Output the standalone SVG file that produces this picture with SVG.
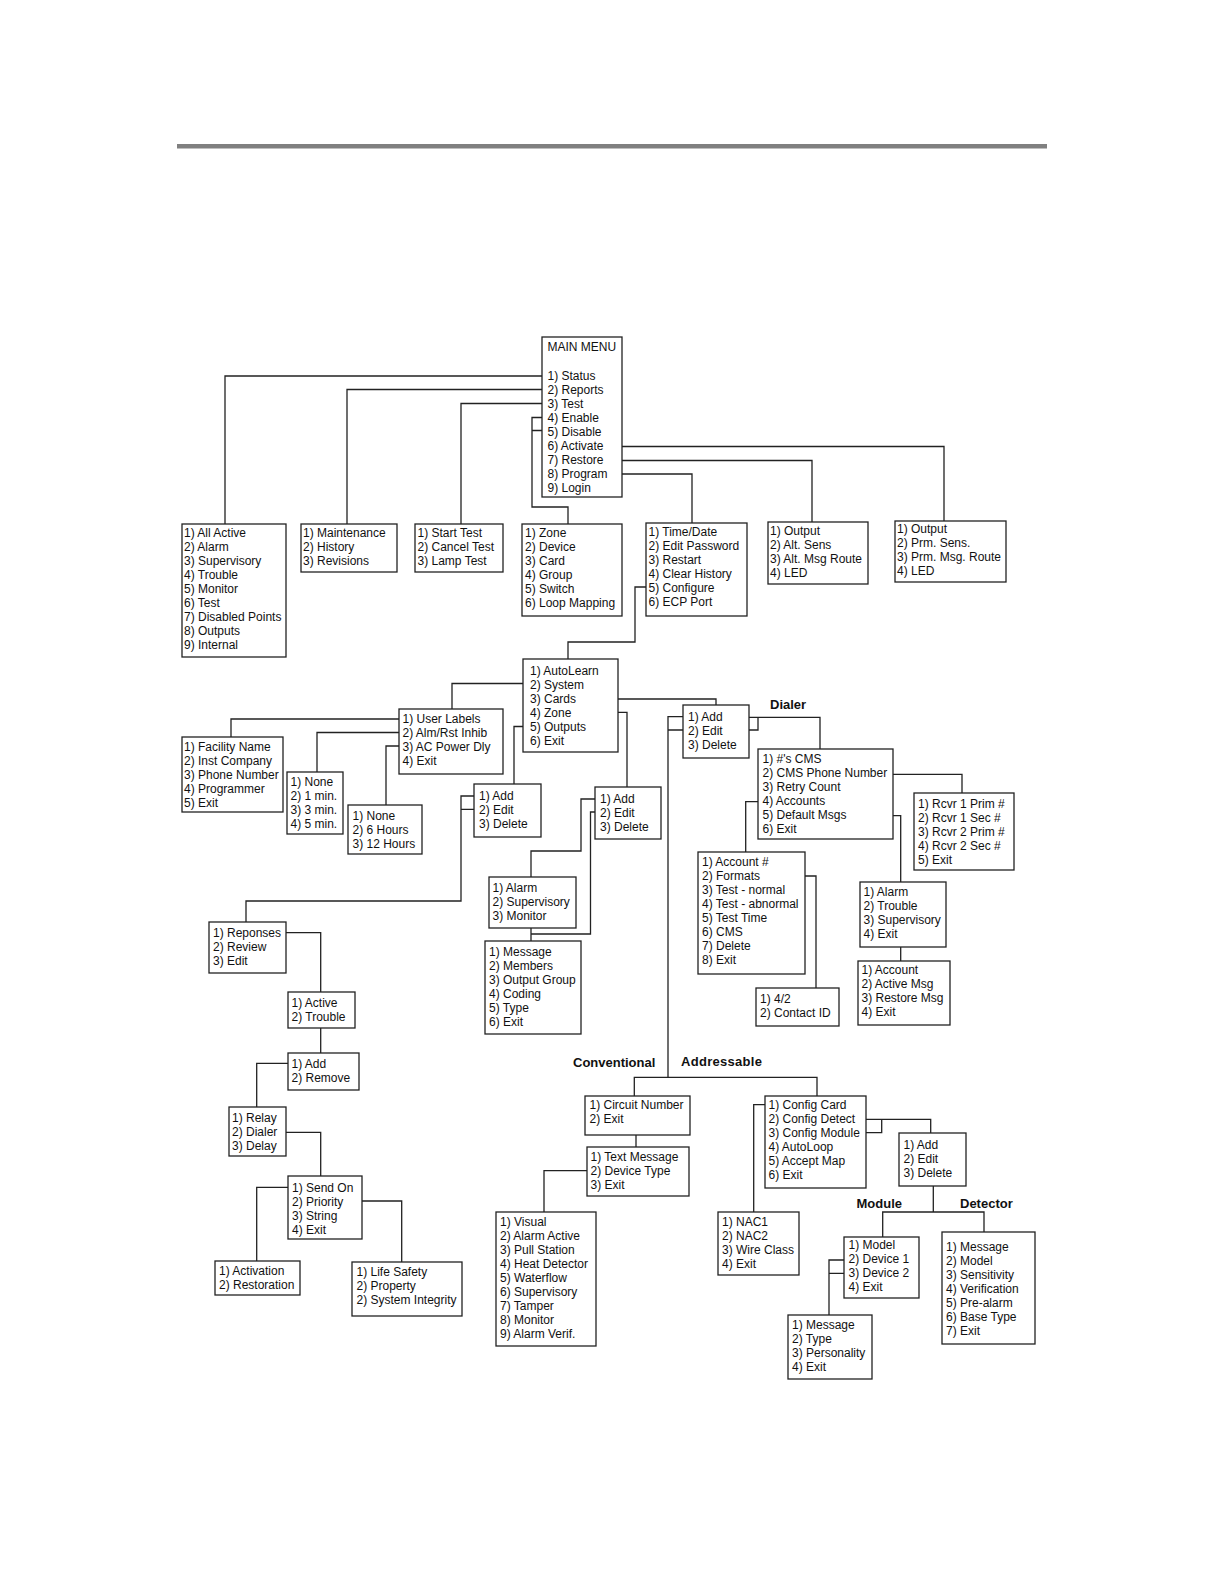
<svg xmlns="http://www.w3.org/2000/svg" width="1224" height="1584" viewBox="0 0 1224 1584">
<style>
.b{fill:#fff;stroke:#222;stroke-width:1.3}
.t{font-family:"Liberation Sans",Arial,sans-serif;font-size:12px;fill:#111}
.l{font-family:"Liberation Sans",Arial,sans-serif;font-size:13px;font-weight:bold;fill:#111}
.c{fill:none;stroke:#222;stroke-width:1.3}
</style>
<rect width="1224" height="1584" fill="#fff"/>
<rect x="177" y="144" width="870" height="4.5" fill="#808080"/>
<g id="connectors" class="c">
<path d="M542,376 H225 V524"/>
<path d="M542,389.5 H347 V524"/>
<path d="M542,403.5 H461 V524"/>
<path d="M542,417.5 H532 V507 H568 V524 M532,430.5 H542"/>
<path d="M622,446.5 H944 V521"/>
<path d="M622,460.5 H812 V522"/>
<path d="M622,474 H692 V523"/>
<path d="M646,587 H635 V642 H568 V659"/>
<path d="M523,683.5 H452 V709"/>
<path d="M399,719 H231 V737"/>
<path d="M399,732.5 H317 V772"/>
<path d="M399,746 H386 V805"/>
<path d="M523,726.5 H514 V784"/>
<path d="M618,712.3 H627 V787"/>
<path d="M618,699 H716 V705"/>
<path d="M474,796 H461 V901 H246 V922 M461,809.3 H474"/>
<path d="M595,799 H581 V851 H531 V877"/>
<path d="M595,812 H590.5 V934 H531 M531,928 V941"/>
<path d="M683,716.7 H668 V1077.3 M668,730 H683"/>
<path d="M634.3,1096 V1077.3 H817 V1096"/>
<path d="M749,717.3 H820 V749 M749,730 H758 V717.3"/>
<path d="M893,774.3 H962 V793"/>
<path d="M758,801.7 H745.7 V852"/>
<path d="M893,815.7 H900.7 V882"/>
<path d="M900.7,947 V961"/>
<path d="M805,876 H816 V988"/>
<path d="M286,932.7 H320.7 V992"/>
<path d="M320.7,1028 V1053"/>
<path d="M288,1063.3 H256.7 V1107"/>
<path d="M286,1132.3 H320.7 V1176"/>
<path d="M288,1187.3 H256.7 V1261"/>
<path d="M362,1201 H401.7 V1262"/>
<path d="M636,1135 V1147"/>
<path d="M587,1170.7 H544 V1212"/>
<path d="M765,1104.7 H753.7 V1212"/>
<path d="M866,1119.3 H930.7 V1133 M866,1132.7 H881.7 V1119.3"/>
<path d="M933.3,1186 V1212 M882.7,1237 V1212 H984 V1232"/>
<path d="M844,1260 H829 V1315 M829,1273.3 H844"/>
</g>
<g id="main-menu"><rect class="b" x="542" y="337" width="80" height="160"/><text class="t" x="547.5" y="351">MAIN MENU</text><text class="t" x="547.5" y="379.6"><tspan x="547.5">1) Status</tspan><tspan x="547.5" dy="14">2) Reports</tspan><tspan x="547.5" dy="14">3) Test</tspan><tspan x="547.5" dy="14">4) Enable</tspan><tspan x="547.5" dy="14">5) Disable</tspan><tspan x="547.5" dy="14">6) Activate</tspan><tspan x="547.5" dy="14">7) Restore</tspan><tspan x="547.5" dy="14">8) Program</tspan><tspan x="547.5" dy="14">9) Login</tspan></text></g>
<g id="status"><rect class="b" x="182" y="524" width="104" height="133"/><text class="t" y="537.3"><tspan x="184">1) All Active</tspan><tspan x="184" dy="14">2) Alarm</tspan><tspan x="184" dy="14">3) Supervisory</tspan><tspan x="184" dy="14">4) Trouble</tspan><tspan x="184" dy="14">5) Monitor</tspan><tspan x="184" dy="14">6) Test</tspan><tspan x="184" dy="14">7) Disabled Points</tspan><tspan x="184" dy="14">8) Outputs</tspan><tspan x="184" dy="14">9) Internal</tspan></text></g>
<g id="reports"><rect class="b" x="301" y="524" width="96" height="48"/><text class="t" y="537.3"><tspan x="303">1) Maintenance</tspan><tspan x="303" dy="14">2) History</tspan><tspan x="303" dy="14">3) Revisions</tspan></text></g>
<g id="test"><rect class="b" x="415" y="524" width="88" height="48"/><text class="t" y="537.3"><tspan x="417.5">1) Start Test</tspan><tspan x="417.5" dy="14">2) Cancel Test</tspan><tspan x="417.5" dy="14">3) Lamp Test</tspan></text></g>
<g id="enable-disable"><rect class="b" x="522" y="524" width="100" height="92"/><text class="t" y="537.3"><tspan x="525">1) Zone</tspan><tspan x="525" dy="14">2) Device</tspan><tspan x="525" dy="14">3) Card</tspan><tspan x="525" dy="14">4) Group</tspan><tspan x="525" dy="14">5) Switch</tspan><tspan x="525" dy="14">6) Loop Mapping</tspan></text></g>
<g id="program"><rect class="b" x="646" y="523" width="101" height="93"/><text class="t" y="536"><tspan x="648.5">1) Time/Date</tspan><tspan x="648.5" dy="14">2) Edit Password</tspan><tspan x="648.5" dy="14">3) Restart</tspan><tspan x="648.5" dy="14">4) Clear History</tspan><tspan x="648.5" dy="14">5) Configure</tspan><tspan x="648.5" dy="14">6) ECP Port</tspan></text></g>
<g id="restore"><rect class="b" x="768" y="522" width="100" height="62"/><text class="t" y="535.3"><tspan x="770">1) Output</tspan><tspan x="770" dy="14">2) Alt. Sens</tspan><tspan x="770" dy="14">3) Alt. Msg Route</tspan><tspan x="770" dy="14">4) LED</tspan></text></g>
<g id="activate"><rect class="b" x="895" y="521" width="111" height="61"/><text class="t" y="533.3"><tspan x="897">1) Output</tspan><tspan x="897" dy="14">2) Prm. Sens.</tspan><tspan x="897" dy="14">3) Prm. Msg. Route</tspan><tspan x="897" dy="14">4) LED</tspan></text></g>
<g id="configure"><rect class="b" x="523" y="659" width="95" height="93"/><text class="t" y="675"><tspan x="530">1) AutoLearn</tspan><tspan x="530" dy="14">2) System</tspan><tspan x="530" dy="14">3) Cards</tspan><tspan x="530" dy="14">4) Zone</tspan><tspan x="530" dy="14">5) Outputs</tspan><tspan x="530" dy="14">6) Exit</tspan></text></g>
<g id="system"><rect class="b" x="399" y="709" width="104" height="65"/><text class="t" y="723.3"><tspan x="402.5">1) User Labels</tspan><tspan x="402.5" dy="14">2) Alm/Rst Inhib</tspan><tspan x="402.5" dy="14">3) AC Power Dly</tspan><tspan x="402.5" dy="14">4) Exit</tspan></text></g>
<g id="user-labels"><rect class="b" x="182" y="737" width="101" height="75"/><text class="t" y="751"><tspan x="184">1) Facility Name</tspan><tspan x="184" dy="14">2) Inst Company</tspan><tspan x="184" dy="14">3) Phone Number</tspan><tspan x="184" dy="14">4) Programmer</tspan><tspan x="184" dy="14">5) Exit</tspan></text></g>
<g id="alm-rst-inhib"><rect class="b" x="287" y="772" width="56" height="62"/><text class="t" y="785.6"><tspan x="290.5">1) None</tspan><tspan x="290.5" dy="14">2) 1 min.</tspan><tspan x="290.5" dy="14">3) 3 min.</tspan><tspan x="290.5" dy="14">4) 5 min.</tspan></text></g>
<g id="ac-power-dly"><rect class="b" x="348" y="805" width="74" height="49"/><text class="t" y="819.6"><tspan x="352.5">1) None</tspan><tspan x="352.5" dy="14">2) 6 Hours</tspan><tspan x="352.5" dy="14">3) 12 Hours</tspan></text></g>
<g id="outputs-add"><rect class="b" x="474" y="784" width="67" height="53"/><text class="t" y="800"><tspan x="479">1) Add</tspan><tspan x="479" dy="14">2) Edit</tspan><tspan x="479" dy="14">3) Delete</tspan></text></g>
<g id="zone-add"><rect class="b" x="595" y="787" width="66" height="52"/><text class="t" y="803"><tspan x="600">1) Add</tspan><tspan x="600" dy="14">2) Edit</tspan><tspan x="600" dy="14">3) Delete</tspan></text></g>
<g id="cards-add"><rect class="b" x="683" y="705" width="66" height="53"/><text class="t" y="721"><tspan x="688">1) Add</tspan><tspan x="688" dy="14">2) Edit</tspan><tspan x="688" dy="14">3) Delete</tspan></text></g>
<g id="dialer-label"><text class="l" x="770" y="708.7">Dialer</text></g>
<g id="dialer"><rect class="b" x="758" y="749" width="135" height="90"/><text class="t" y="763.3"><tspan x="762.5">1) #'s CMS</tspan><tspan x="762.5" dy="14">2) CMS Phone Number</tspan><tspan x="762.5" dy="14">3) Retry Count</tspan><tspan x="762.5" dy="14">4) Accounts</tspan><tspan x="762.5" dy="14">5) Default Msgs</tspan><tspan x="762.5" dy="14">6) Exit</tspan></text></g>
<g id="cms-phone"><rect class="b" x="914" y="793" width="100" height="77"/><text class="t" y="807.6"><tspan x="918">1) Rcvr 1 Prim #</tspan><tspan x="918" dy="14">2) Rcvr 1 Sec #</tspan><tspan x="918" dy="14">3) Rcvr 2 Prim #</tspan><tspan x="918" dy="14">4) Rcvr 2 Sec #</tspan><tspan x="918" dy="14">5) Exit</tspan></text></g>
<g id="accounts"><rect class="b" x="698" y="852" width="107" height="122"/><text class="t" y="866"><tspan x="702">1) Account #</tspan><tspan x="702" dy="14">2) Formats</tspan><tspan x="702" dy="14">3) Test - normal</tspan><tspan x="702" dy="14">4) Test - abnormal</tspan><tspan x="702" dy="14">5) Test Time</tspan><tspan x="702" dy="14">6) CMS</tspan><tspan x="702" dy="14">7) Delete</tspan><tspan x="702" dy="14">8) Exit</tspan></text></g>
<g id="formats"><rect class="b" x="756" y="988" width="83" height="38"/><text class="t" y="1003.3"><tspan x="760">1) 4/2</tspan><tspan x="760" dy="14">2) Contact ID</tspan></text></g>
<g id="default-msgs"><rect class="b" x="860" y="882" width="86" height="65"/><text class="t" y="896"><tspan x="863.5">1) Alarm</tspan><tspan x="863.5" dy="14">2) Trouble</tspan><tspan x="863.5" dy="14">3) Supervisory</tspan><tspan x="863.5" dy="14">4) Exit</tspan></text></g>
<g id="msg-account"><rect class="b" x="858" y="961" width="92" height="64"/><text class="t" y="974.3"><tspan x="861.5">1) Account</tspan><tspan x="861.5" dy="14">2) Active Msg</tspan><tspan x="861.5" dy="14">3) Restore Msg</tspan><tspan x="861.5" dy="14">4) Exit</tspan></text></g>
<g id="zone-type"><rect class="b" x="489" y="877" width="87" height="51"/><text class="t" y="891.6"><tspan x="492.5">1) Alarm</tspan><tspan x="492.5" dy="14">2) Supervisory</tspan><tspan x="492.5" dy="14">3) Monitor</tspan></text></g>
<g id="zone-edit"><rect class="b" x="485" y="941" width="96" height="93"/><text class="t" y="956"><tspan x="489">1) Message</tspan><tspan x="489" dy="14">2) Members</tspan><tspan x="489" dy="14">3) Output Group</tspan><tspan x="489" dy="14">4) Coding</tspan><tspan x="489" dy="14">5) Type</tspan><tspan x="489" dy="14">6) Exit</tspan></text></g>
<g id="responses"><rect class="b" x="209" y="922" width="77" height="51"/><text class="t" y="937"><tspan x="213">1) Reponses</tspan><tspan x="213" dy="14">2) Review</tspan><tspan x="213" dy="14">3) Edit</tspan></text></g>
<g id="active-trouble"><rect class="b" x="288" y="992" width="67" height="36"/><text class="t" y="1006.6"><tspan x="291.5">1) Active</tspan><tspan x="291.5" dy="14">2) Trouble</tspan></text></g>
<g id="add-remove"><rect class="b" x="288" y="1053" width="71" height="37"/><text class="t" y="1067.6"><tspan x="291.5">1) Add</tspan><tspan x="291.5" dy="14">2) Remove</tspan></text></g>
<g id="relay"><rect class="b" x="229" y="1107" width="57" height="49"/><text class="t" y="1122"><tspan x="232">1) Relay</tspan><tspan x="232" dy="14">2) Dialer</tspan><tspan x="232" dy="14">3) Delay</tspan></text></g>
<g id="send-on"><rect class="b" x="288" y="1176" width="74" height="63"/><text class="t" y="1191.6"><tspan x="292">1) Send On</tspan><tspan x="292" dy="14">2) Priority</tspan><tspan x="292" dy="14">3) String</tspan><tspan x="292" dy="14">4) Exit</tspan></text></g>
<g id="activation"><rect class="b" x="215" y="1261" width="85" height="34"/><text class="t" y="1274.6"><tspan x="219">1) Activation</tspan><tspan x="219" dy="14">2) Restoration</tspan></text></g>
<g id="priority"><rect class="b" x="352" y="1262" width="110" height="54"/><text class="t" y="1276.3"><tspan x="356.5">1) Life Safety</tspan><tspan x="356.5" dy="14">2) Property</tspan><tspan x="356.5" dy="14">2) System Integrity</tspan></text></g>
<g id="conventional-label"><text class="l" x="573" y="1067">Conventional</text></g>
<g id="addressable-label"><text class="l" x="681" y="1066" textLength="81">Addressable</text></g>
<g id="circuit"><rect class="b" x="585" y="1096" width="105" height="39"/><text class="t" y="1109.3"><tspan x="589.5">1) Circuit Number</tspan><tspan x="589.5" dy="14">2) Exit</tspan></text></g>
<g id="text-message"><rect class="b" x="587" y="1147" width="102" height="49"/><text class="t" y="1161"><tspan x="590.5">1) Text Message</tspan><tspan x="590.5" dy="14">2) Device Type</tspan><tspan x="590.5" dy="14">3) Exit</tspan></text></g>
<g id="device-type"><rect class="b" x="496" y="1212" width="100" height="134"/><text class="t" y="1226"><tspan x="500">1) Visual</tspan><tspan x="500" dy="14">2) Alarm Active</tspan><tspan x="500" dy="14">3) Pull Station</tspan><tspan x="500" dy="14">4) Heat Detector</tspan><tspan x="500" dy="14">5) Waterflow</tspan><tspan x="500" dy="14">6) Supervisory</tspan><tspan x="500" dy="14">7) Tamper</tspan><tspan x="500" dy="14">8) Monitor</tspan><tspan x="500" dy="14">9) Alarm Verif.</tspan></text></g>
<g id="config-card"><rect class="b" x="765" y="1096" width="101" height="92"/><text class="t" y="1109"><tspan x="768.5">1) Config Card</tspan><tspan x="768.5" dy="14">2) Config Detect</tspan><tspan x="768.5" dy="14">3) Config Module</tspan><tspan x="768.5" dy="14">4) AutoLoop</tspan><tspan x="768.5" dy="14">5) Accept Map</tspan><tspan x="768.5" dy="14">6) Exit</tspan></text></g>
<g id="nac"><rect class="b" x="718" y="1212" width="81" height="63"/><text class="t" y="1226"><tspan x="722">1) NAC1</tspan><tspan x="722" dy="14">2) NAC2</tspan><tspan x="722" dy="14">3) Wire Class</tspan><tspan x="722" dy="14">4) Exit</tspan></text></g>
<g id="detect-add"><rect class="b" x="899" y="1133" width="67" height="53"/><text class="t" y="1149.3"><tspan x="903.5">1) Add</tspan><tspan x="903.5" dy="14">2) Edit</tspan><tspan x="903.5" dy="14">3) Delete</tspan></text></g>
<g id="module-label"><text class="l" x="856.5" y="1208">Module</text></g>
<g id="detector-label"><text class="l" x="960" y="1208">Detector</text></g>
<g id="module"><rect class="b" x="844" y="1237" width="75" height="61"/><text class="t" y="1249.3"><tspan x="848.5">1) Model</tspan><tspan x="848.5" dy="14">2) Device 1</tspan><tspan x="848.5" dy="14">3) Device 2</tspan><tspan x="848.5" dy="14">4) Exit</tspan></text></g>
<g id="device"><rect class="b" x="788" y="1315" width="84" height="64"/><text class="t" y="1328.6"><tspan x="792">1) Message</tspan><tspan x="792" dy="14">2) Type</tspan><tspan x="792" dy="14">3) Personality</tspan><tspan x="792" dy="14">4) Exit</tspan></text></g>
<g id="detector"><rect class="b" x="942" y="1232" width="93" height="112"/><text class="t" y="1251"><tspan x="946">1) Message</tspan><tspan x="946" dy="14">2) Model</tspan><tspan x="946" dy="14">3) Sensitivity</tspan><tspan x="946" dy="14">4) Verification</tspan><tspan x="946" dy="14">5) Pre-alarm</tspan><tspan x="946" dy="14">6) Base Type</tspan><tspan x="946" dy="14">7) Exit</tspan></text></g>
</svg>
